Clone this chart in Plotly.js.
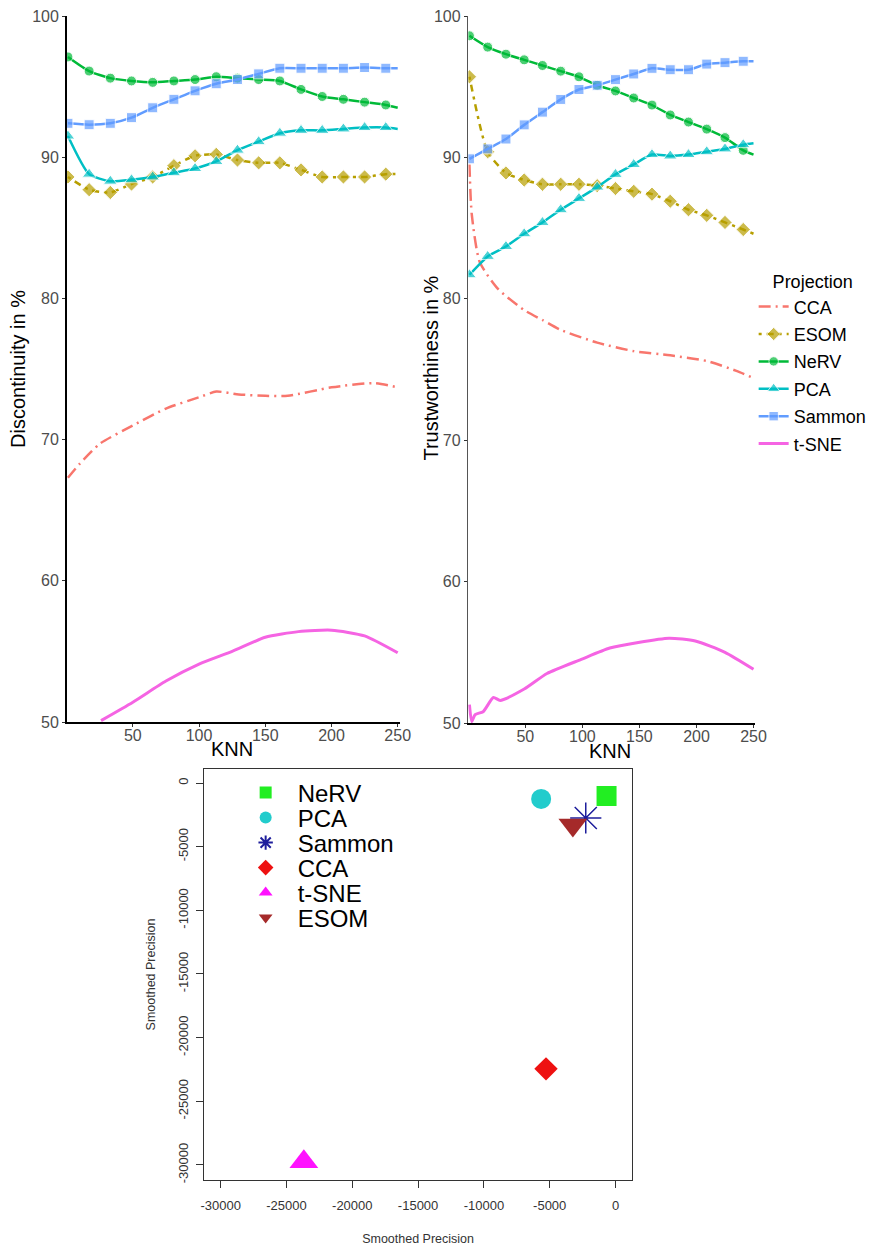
<!DOCTYPE html>
<html><head><meta charset="utf-8">
<script src="https://cdn.plot.ly/plotly-3.0.1.min.js"></script>
<style>html,body{margin:0;padding:0;background:#fff}</style>
</head><body><div id="chart" style="width:872px;height:1248px"></div>
<script>
// KNN positions of the plotted markers (last point = line end without marker)
const knnMarked = [1,17,33,49,65,81,97,113,129,145,161,177,193,209,225,241,250];

// ---- Discontinuity (left panel) ----
const discNeRV   = [97.1,96.1,95.6,95.4,95.3,95.4,95.5,95.7,95.6,95.5,95.4,94.8,94.3,94.1,93.9,93.7,93.5];
const discSammon = [92.4,92.3,92.4,92.8,93.5,94.1,94.7,95.2,95.5,95.9,96.3,96.3,96.3,96.3,96.35,96.3,96.3];
const discPCA    = [91.5,88.8,88.3,88.4,88.6,88.9,89.2,89.7,90.5,91.1,91.7,91.9,91.9,92.0,92.1,92.1,92.0];
const discESOM   = [88.6,87.7,87.5,88.1,88.6,89.4,90.1,90.2,89.8,89.6,89.6,89.1,88.6,88.6,88.6,88.8,88.8];
const discCCAknn = [1,10,25,50,75,100,113,130,150,167,200,232,250];
const discCCA    = [67.3,68.3,69.7,71.0,72.2,73.0,73.4,73.2,73.1,73.1,73.7,74.0,73.7];
const discTSNEknn = [26,50,75,100,125,150,175,200,225,250];
const discTSNE    = [50.1,51.4,52.9,54.1,55.0,56.0,56.4,56.5,56.1,54.9];

// ---- Trustworthiness (right panel) ----
const trustNeRV   = [98.6,97.8,97.3,96.9,96.5,96.1,95.7,95.1,94.7,94.2,93.7,93.0,92.5,92.0,91.4,90.5,90.2];
const trustSammon = [89.9,90.6,91.3,92.3,93.2,94.1,94.8,95.1,95.5,95.9,96.3,96.2,96.2,96.6,96.7,96.8,96.8];
const trustPCA    = [81.7,83.0,83.7,84.6,85.4,86.3,87.1,87.9,88.8,89.5,90.2,90.1,90.2,90.4,90.6,90.9,91.0];
const trustESOM   = [95.7,90.4,88.9,88.4,88.1,88.1,88.1,88.0,87.8,87.6,87.4,86.9,86.3,85.9,85.4,84.9,84.6];
const trustCCAknn = [1,3,10,26,49,65,81,113,145,177,209,235,250];
const trustCCA    = [89.5,86.0,82.6,80.7,79.2,78.5,77.8,76.9,76.3,76.0,75.6,74.9,74.4];
const trustTSNEknn = [1,3,6,13,22,28,49,69,99,124,149,176,199,225,250];
const trustTSNE    = [51.3,50.1,50.6,50.8,51.8,51.6,52.4,53.5,54.5,55.3,55.7,56.0,55.8,55.0,53.8];

// ---- Smoothed precision scatter (bottom panel) ----
const spNames = ['NeRV','PCA','Sammon','CCA','t-SNE','ESOM'];
const spX = [-680,-5650,-2260,-5280,-23680,-3240];
const spY = [-1020,-1250,-2750,-22450,-29750,-3300];
const spTicks = [-30000,-25000,-20000,-15000,-10000,-5000,0];

const colors = {CCA:'#F8766D', ESOM:'#B79F00', NeRV:'#00BA38', PCA:'#00BFC4', Sammon:'#619CFF', 't-SNE':'#F564E3'};
const symbols = {ESOM:'diamond', NeRV:'circle', PCA:'triangle-up', Sammon:'square'};
const mSizes = {ESOM:11, NeRV:10, PCA:12, Sammon:10};
const FONT = 'Liberation Sans, Arial, sans-serif';

function markedTrace(name, vals, xa, ya, show, dash){
  const sz = knnMarked.map((k,i)=> i < knnMarked.length-1 ? mSizes[name] : 0);
  return {x: knnMarked, y: vals, name: name, xaxis: xa, yaxis: ya, mode: 'lines+markers',
    legendgroup: name, showlegend: show,
    line: {color: colors[name], width: 2.5, shape: 'spline', smoothing: 0.6, dash: dash || 'solid'},
    marker: {color: colors[name], symbol: symbols[name], size: sz}};
}
function lineTrace(name, xs, vals, xa, ya, show, dash, w){
  return {x: xs, y: vals, name: name, xaxis: xa, yaxis: ya, mode: 'lines',
    legendgroup: name, showlegend: show,
    line: {color: colors[name], width: w || 2.5, shape: 'spline', smoothing: 0.6, dash: dash || 'solid'}};
}
const ccaDash = '12px,5px,2px,5px';
const esomDash = '3px,5px,7px,5px';

const traces = [
  lineTrace('CCA', discCCAknn, discCCA, 'x', 'y', true, ccaDash),
  markedTrace('ESOM', discESOM, 'x', 'y', true, esomDash),
  markedTrace('NeRV', discNeRV, 'x', 'y', true),
  markedTrace('PCA', discPCA, 'x', 'y', true),
  markedTrace('Sammon', discSammon, 'x', 'y', true),
  lineTrace('t-SNE', discTSNEknn, discTSNE, 'x', 'y', true, 'solid', 3),
  lineTrace('CCA', trustCCAknn, trustCCA, 'x2', 'y2', false, ccaDash),
  markedTrace('ESOM', trustESOM, 'x2', 'y2', false, esomDash),
  markedTrace('NeRV', trustNeRV, 'x2', 'y2', false),
  markedTrace('PCA', trustPCA, 'x2', 'y2', false),
  markedTrace('Sammon', trustSammon, 'x2', 'y2', false),
  lineTrace('t-SNE', trustTSNEknn, trustTSNE, 'x2', 'y2', false, 'solid', 3)
];

const spStyle = {
  'NeRV':  {symbol:'square', color:'#22EE22', size:20},
  'PCA':   {symbol:'circle', color:'#22CCCC', size:20},
  'Sammon':{symbol:'asterisk-open', color:'#1E1E9C', size:26, line:{color:'#1E1E9C', width:1.5}},
  'CCA':   {symbol:'diamond', color:'#EE1111', size:18},
  't-SNE': {symbol:'triangle-up', color:'#FF11FF', size:25},
  'ESOM':  {symbol:'triangle-down', color:'#A52A2A', size:25}
};
// bottom legend: one small legend per row so the rows can sit as tightly as in the original
const legendRowsPx = [793, 818, 843, 868, 893, 918];
spNames.forEach((n,i)=>{
  traces.push({x:[spX[i]], y:[spY[i]], name:n, xaxis:'x3', yaxis:'y3', mode:'markers',
    legend:'legend'+(i+2), showlegend:true, marker: spStyle[n]});
});

const topAxisX = {showline:true, linecolor:'#000', linewidth:1.5, ticks:'outside', ticklen:3,
  tickcolor:'#333', tickvals:[50,100,150,200,250], showgrid:false, zeroline:false,
  ticklabelstandoff:-5,
  tickfont:{family:FONT, size:16, color:'#4d4d4d'}};
const topAxisY = {showline:true, linecolor:'#000', linewidth:1.5, ticks:'outside', ticklen:3,
  tickcolor:'#333', tickvals:[50,60,70,80,90,100], range:[50,100], showgrid:false, zeroline:false,
  tickfont:{family:FONT, size:16, color:'#4d4d4d'}};

const titleFont = {family:FONT, size:20, color:'#000'};
const layout = {
  width: 872, height: 1248, margin:{l:0,r:0,t:0,b:0},
  paper_bgcolor:'#fff', plot_bgcolor:'#fff',
  font:{family:FONT},
  xaxis: Object.assign({}, topAxisX, {domain:[67/872, 402/872], range:[0, 251.5], anchor:'y'}),
  yaxis: Object.assign({}, topAxisY, {domain:[1-722/1248, 1-16/1248], anchor:'x'}),
  xaxis2: Object.assign({}, topAxisX, {domain:[471/872, 759/872], range:[0, 251], anchor:'y2'}),
  yaxis2: Object.assign({}, topAxisY, {domain:[1-723/1248, 1-16/1248], anchor:'x2', linecolor:'#555'}),
  xaxis3: {domain:[205/872, 636/872], range:[-31280, 1280], anchor:'y3',
    showline:true, mirror:true, linecolor:'#333', linewidth:1, ticks:'outside', ticklen:7, tickcolor:'#333',
    tickvals:spTicks, ticktext:spTicks.map(String), showgrid:false, zeroline:false,
    ticklabelstandoff:6,
    tickfont:{family:FONT, size:13, color:'#333'},
    title:{text:'Smoothed Precision', font:{family:FONT, size:12.5, color:'#333'}, standoff:22}},
  yaxis3: {domain:[1-1180/1248, 1-769/1248], range:[-31180, 1100], anchor:'x3',
    showline:true, mirror:true, linecolor:'#333', linewidth:1, ticks:'outside', ticklen:7, tickcolor:'#333',
    tickvals:spTicks, ticktext:spTicks.map(String), tickangle:-90, showgrid:false, zeroline:false,
    ticklabelstandoff:3,
    tickfont:{family:FONT, size:13, color:'#333'},
    title:{text:'Smoothed Precision', font:{family:FONT, size:12.5, color:'#333'}, standoff:17}},
  annotations: [
    {text:'Discontinuity in %', xref:'paper', yref:'paper', x:18/872, y:1-369/1248, textangle:-90,
      showarrow:false, xanchor:'center', yanchor:'middle', font:titleFont},
    {text:'Trustworthiness in %', xref:'paper', yref:'paper', x:433/872, y:1-368/1248, textangle:-90,
      showarrow:false, xanchor:'center', yanchor:'middle', font:titleFont},
    {text:'KNN', xref:'paper', yref:'paper', x:233/872, y:1-749/1248,
      showarrow:false, xanchor:'center', yanchor:'middle', font:titleFont},
    {text:'KNN', xref:'paper', yref:'paper', x:614/872, y:1-751/1248,
      showarrow:false, xanchor:'center', yanchor:'middle', font:titleFont}
  ],
  legend: {x:758/872, y:1-265/1248, xanchor:'left', yanchor:'top', bgcolor:'rgba(0,0,0,0)',
    tracegroupgap:1,
    title:{text:'Projection', side:'top center', font:{family:FONT, size:18, color:'#000'}},
    font:{family:FONT, size:18, color:'#000'}},
  showlegend: true
};
legendRowsPx.forEach((py,i)=>{
  layout['legend'+(i+2)] = {x:235/872, y:1-py/1248, xanchor:'left', yanchor:'middle',
    bgcolor:'rgba(0,0,0,0)', itemsizing:'constant', itemwidth:54,
    font:{family:FONT, size:24, color:'#000'}};
});

Plotly.newPlot('chart', traces, layout, {displayModeBar:false, staticPlot:true});
</script>
</body></html>
